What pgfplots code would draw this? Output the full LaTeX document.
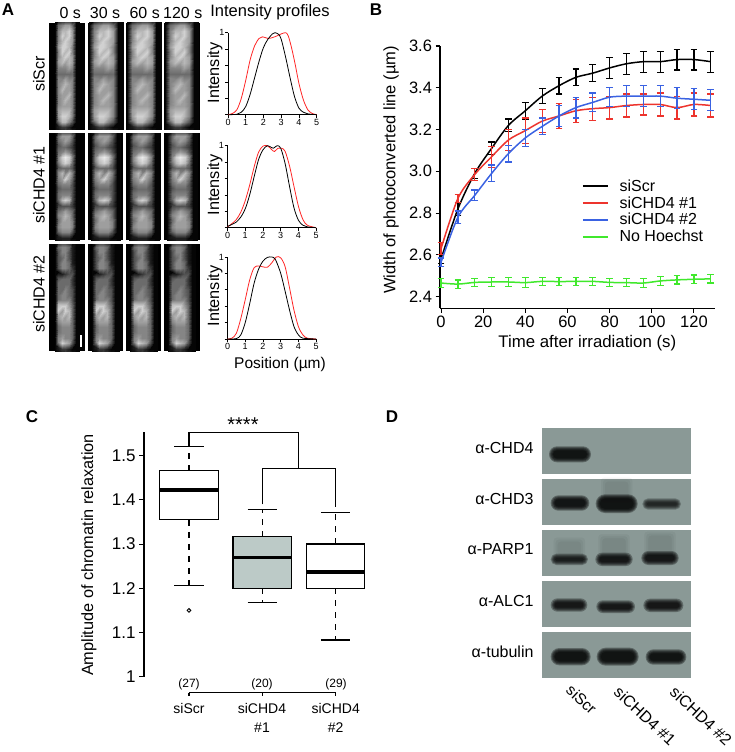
\documentclass[border=0pt]{standalone}
\usepackage{pgfplots}
\usepackage{pgfplotstable}
\usepackage{fontspec}
\setmainfont{Liberation Sans}
\pgfplotsset{compat=1.18}
\pgfplotsset{/pgf/number format/assume math mode=true}
\definecolor{pred}{RGB}{237,52,45}
\definecolor{pblue}{RGB}{58,98,226}
\definecolor{pgreen}{RGB}{64,232,44}
\definecolor{blotbg}{RGB}{138,153,150}
\definecolor{boxgrey}{RGB}{188,202,199}
\newcommand{\fs}[1]{\fontsize{#1pt}{#1pt}\selectfont}

% cell images: 7 columns x 21 rows, intensity 0-9
\pgfplotstableread[row sep=crcr,header=false]{
0\\0\\1\\1\\1\\0\\0\\ 0\\4\\5\\6\\6\\4\\0\\ 0\\5\\7\\7\\8\\6\\0\\ 0\\5\\8\\7\\8\\6\\0\\ 0\\5\\7\\8\\7\\6\\0\\ 0\\6\\8\\8\\7\\5\\0\\ 0\\5\\8\\7\\8\\5\\0\\
0\\5\\7\\8\\7\\6\\0\\ 0\\6\\7\\6\\7\\6\\0\\ 0\\5\\5\\5\\6\\5\\0\\ 0\\4\\4\\4\\4\\4\\0\\ 0\\5\\5\\6\\5\\5\\0\\ 0\\5\\6\\7\\6\\5\\0\\ 0\\5\\7\\6\\6\\5\\0\\
0\\5\\6\\6\\7\\5\\0\\ 0\\5\\6\\7\\6\\5\\0\\ 0\\5\\6\\6\\6\\5\\0\\ 0\\6\\7\\7\\7\\5\\0\\ 0\\6\\8\\8\\7\\5\\0\\ 0\\5\\7\\7\\5\\3\\0\\ 0\\1\\2\\2\\1\\0\\0\\
}\cellA
\pgfplotstableread[row sep=crcr,header=false]{
0\\1\\2\\2\\2\\1\\0\\ 0\\4\\6\\6\\6\\4\\0\\ 0\\4\\5\\6\\5\\3\\0\\ 0\\3\\4\\4\\3\\2\\0\\ 0\\4\\5\\6\\5\\3\\0\\ 0\\5\\8\\9\\8\\5\\0\\ 0\\5\\7\\8\\7\\4\\0\\
0\\3\\4\\4\\4\\3\\0\\ 0\\5\\7\\5\\7\\5\\0\\ 0\\5\\6\\8\\6\\4\\0\\ 0\\4\\5\\5\\5\\3\\0\\ 0\\3\\4\\4\\4\\3\\0\\ 0\\4\\5\\5\\5\\3\\0\\ 0\\4\\7\\8\\7\\3\\0\\
0\\2\\3\\3\\3\\2\\0\\ 0\\4\\5\\6\\5\\4\\0\\ 0\\5\\6\\7\\6\\4\\0\\ 0\\4\\6\\6\\6\\5\\0\\ 0\\5\\6\\6\\6\\5\\0\\ 0\\4\\5\\5\\5\\3\\0\\ 0\\1\\1\\1\\1\\0\\0\\
}\cellB
\pgfplotstableread[row sep=crcr,header=false]{
0\\1\\2\\2\\1\\0\\0\\ 0\\4\\5\\5\\4\\1\\0\\ 0\\3\\5\\5\\3\\1\\0\\ 0\\3\\4\\5\\3\\1\\0\\ 0\\3\\5\\5\\4\\1\\0\\ 0\\3\\5\\5\\4\\2\\0\\ 0\\0\\1\\2\\3\\3\\0\\
0\\3\\4\\4\\4\\2\\0\\ 0\\4\\4\\4\\4\\2\\0\\ 0\\4\\4\\5\\4\\3\\0\\ 0\\4\\5\\5\\4\\3\\0\\ 0\\4\\5\\5\\5\\3\\0\\ 0\\7\\8\\8\\6\\4\\0\\ 0\\8\\6\\8\\7\\4\\0\\
0\\6\\7\\6\\7\\4\\0\\ 0\\5\\6\\6\\6\\4\\0\\ 0\\4\\5\\5\\5\\4\\0\\ 0\\4\\5\\5\\5\\4\\0\\ 0\\5\\6\\5\\5\\4\\0\\ 0\\5\\8\\7\\6\\3\\0\\ 0\\1\\2\\2\\1\\0\\0\\
}\cellC

\pgfplotstableread{
t  b     be    r     re    bl    ble   g     ge
0  2.58  0.02  2.63  0.03  2.565 0.02  2.465 0.02
8  2.82  0.03  2.87  0.02  2.78  0.03  2.46  0.02
16 2.99  0.025 2.985 0.03  2.885 0.025 2.468 0.02
24 3.11  0.03  3.07  0.05  2.99  0.04  2.47  0.02
32 3.22  0.03  3.15  0.05  3.085 0.04  2.47  0.02
40 3.29  0.04  3.195 0.06  3.16  0.04  2.467 0.025
48 3.36  0.035 3.24  0.055 3.215 0.04  2.473 0.02
56 3.41  0.04  3.265 0.06  3.265 0.05  2.472 0.02
64 3.45  0.04  3.29  0.055 3.305 0.05  2.473 0.02
72 3.47  0.04  3.30  0.055 3.33  0.045 2.473 0.02
80 3.495 0.05  3.305 0.055 3.355 0.045 2.468 0.02
88 3.515 0.05  3.315 0.055 3.36  0.05  2.467 0.02
96 3.525 0.05  3.32  0.05  3.36  0.05  2.465 0.02
104 3.525 0.05 3.32  0.055 3.36  0.05  2.475 0.02
112 3.535 0.05 3.305 0.055 3.35  0.05  2.48  0.02
120 3.535 0.05 3.32  0.055 3.345 0.05  2.483 0.02
128 3.525 0.05 3.315 0.055 3.34  0.05  2.485 0.02
}\tabB

\pgfplotsset{
  prof/.style={
    scale only axis, width=88.7pt, height=82pt, anchor=south west,
    xmin=0, xmax=5, ymin=0, ymax=1,
    axis x line=bottom, axis y line=left,
    axis line style={-,line width=.7pt},
    tick align=outside, major tick length=3pt, tick style={line width=.7pt,black},
    xtick={0,1,2,3,4,5}, ytick={0,.2,.4,.6,.8,1},
    yticklabels={,,,,,1},
    tick label style={font=\fs{9}},
    xticklabel style={yshift=2pt}, yticklabel style={xshift=3pt},
    clip=false
  },
  cellimg/.style={
    scale only axis, width=35.4pt, height=107pt, anchor=north west,
    axis lines=none, ticks=none, y dir=reverse, ymin=0, ymax=20,
    axis background/.style={fill=black},
    colormap={g}{gray(0cm)=(0.02); gray(1cm)=(0.92)},
    point meta min=0, point meta max=9
  },
  ser/.style={#1,smooth,mark=none,line width=1.5pt,
    error bars/.cd, y dir=both, y explicit,
    error bar style={draw=#1,line width=1.4pt,solid},
    error mark options={draw=#1,rotate=90,mark size=3.4pt,line width=1.2pt}},
  ln/.style={black,mark=none,line width=1.1pt,solid},
  dsh/.style={black,mark=none,line width=1.1pt,dash pattern=on 6pt off 6pt}
}
\newcommand{\cimg}[5]{% x y table xmin xmax
  \begin{axis}[cellimg, at={(#1pt,-#2pt)}, xmin=#4, xmax=#5]
    \addplot[matrix plot*, shader=interp, mesh/cols=7, mesh/ordering=x varies, point meta=explicit]
      table[x index=0, y index=0, x expr={mod(\coordindex,7)}, y expr={floor(\coordindex/7)}, meta index=0] {#3};
  \end{axis}}
\newcommand{\band}[5]{% cx cy hw hh opacity (zoom units)
  \foreach \e in {8,5,2,-1,-4}{
    \pgfmathsetmacro{\rc}{max(#4+\e,1)}
    \fill[black,opacity=#5,rounded corners=\rc*0.3333pt] ({#1-#3-\e},{#2-#4-\e}) rectangle ({#1+#3+\e},{#2+#4+\e});
  }}
\newcommand{\smear}[4]{%
  \foreach \e in {0,6,12}{
    \fill[black,opacity=.04,rounded corners=3pt] ({#1-#3-\e},{#2-#4-\e}) rectangle ({#1+#3+\e},{#2+#4+\e});
  }}

\begin{document}
\begin{tikzpicture}[x=1pt,y=-1pt]
\useasboundingbox (0,0) rectangle (735,752);

% panel letters
\node[font=\fs{17}\bfseries,anchor=center] at (8,10) {A};
\node[font=\fs{17}\bfseries,anchor=center] at (376,10) {B};
\node[font=\fs{17}\bfseries,anchor=center] at (32,417) {C};
\node[font=\fs{17}\bfseries,anchor=center] at (392,417) {D};

% A: headers
\node[font=\fs{16}] at (70.3,12.7) {0 s};
\node[font=\fs{16}] at (105,12.7) {30 s};
\node[font=\fs{16}] at (144.7,12.7) {60 s};
\node[font=\fs{16}] at (182.7,12.7) {120 s};
\node[font=\fs{16.5}] at (270,12.7) {Intensity profiles};
\node[font=\fs{16},rotate=90] at (39,74) {siScr};
\node[font=\fs{16},rotate=90] at (39,185) {siCHD4 \#1};
\node[font=\fs{16},rotate=90] at (39,294) {siCHD4 \#2};

% A: images
\cimg{49.3}{22.7}{\cellA}{-2}{8}
\cimg{87.7}{22.7}{\cellA}{-0.7}{6.5}
\cimg{126}{22.7}{\cellA}{-0.7}{6.5}
\cimg{164.3}{22.7}{\cellA}{-0.7}{6.7}
\cimg{49.3}{133.3}{\cellB}{-2}{8}
\cimg{87.7}{133.3}{\cellB}{-1.2}{7}
\cimg{126}{133.3}{\cellB}{-1.2}{7}
\cimg{164.3}{133.3}{\cellB}{-1.2}{7}
\cimg{49.3}{244.3}{\cellC}{-2}{8}
\cimg{87.7}{244.3}{\cellC}{-1.5}{7.5}
\cimg{126}{244.3}{\cellC}{-1.5}{7.5}
\cimg{164.3}{244.3}{\cellC}{-1.5}{7.5}
\fill[white] (79.8,335) rectangle (81.6,347);

% A: profiles
\begin{axis}[prof, at={(228pt,-114.7pt)}]
\addplot[red!85!white,line width=.8pt,smooth] coordinates {(0,0)(.25,.015)(.5,.06)(.75,.2)(1,.42)(1.25,.67)(1.5,.84)(1.75,.93)(1.95,.95)(2.25,.93)(2.5,.94)(2.75,.96)(3,.985)(3.25,1)(3.4,.96)(3.6,.8)(3.8,.6)(4,.38)(4.25,.18)(4.5,.06)(4.75,.015)(5,0)};
\addplot[black,line width=.8pt,smooth] coordinates {(0,0)(.5,.005)(.75,.03)(1,.1)(1.25,.25)(1.5,.45)(1.75,.65)(2,.82)(2.25,.92)(2.5,.985)(2.65,1)(2.85,.98)(3,.92)(3.25,.7)(3.5,.45)(3.75,.22)(4,.08)(4.25,.03)(4.5,.01)(5,0)};
\end{axis}
\begin{axis}[prof, at={(227.5pt,-227.7pt)}]
\addplot[red!85!white,line width=.8pt,smooth] coordinates {(0,.01)(.25,.05)(.5,.1)(.75,.19)(1,.33)(1.25,.52)(1.5,.74)(1.75,.92)(2,.995)(2.25,1)(2.5,.95)(2.65,.93)(2.85,.97)(3.05,.97)(3.25,.93)(3.5,.75)(3.75,.5)(4,.26)(4.25,.1)(4.5,.03)(5,0)};
\addplot[black,line width=.8pt,smooth] coordinates {(0,.015)(.25,.04)(.5,.07)(.75,.13)(1,.23)(1.25,.4)(1.5,.62)(1.75,.83)(2,.95)(2.25,1)(2.5,.975)(2.6,.97)(2.8,1)(3,.97)(3.25,.78)(3.5,.5)(3.75,.24)(4,.09)(4.25,.03)(4.5,.01)(5,0)};
\end{axis}
\begin{axis}[prof, at={(227.5pt,-339pt)}]
\addplot[red!85!white,line width=.8pt,smooth] coordinates {(0,0)(.25,.01)(.5,.07)(.75,.25)(1,.48)(1.25,.72)(1.5,.87)(1.75,.89)(2,.88)(2.25,.875)(2.5,.93)(2.75,1)(3,.99)(3.25,.88)(3.5,.62)(3.75,.35)(4,.15)(4.25,.05)(4.5,.01)(5,0)};
\addplot[black,line width=.8pt,smooth] coordinates {(0,0)(.5,.005)(.75,.05)(1,.2)(1.25,.43)(1.5,.68)(1.75,.85)(2,.95)(2.25,.995)(2.5,1)(2.7,.97)(3,.8)(3.25,.58)(3.5,.35)(3.75,.15)(4,.05)(4.25,.01)(5,0)};
\end{axis}
\node[font=\fs{16.3},rotate=90] at (215,73) {Intensity};
\node[font=\fs{16.3},rotate=90] at (215,185) {Intensity};
\node[font=\fs{16.3},rotate=90] at (215,296) {Intensity};
\node[font=\fs{15.5}] at (280,364) {Position (µm)};

% B
\begin{axis}[
  scale only axis, width=275pt, height=262.3pt, anchor=south west, at={(440pt,-308.3pt)},
  xmin=-0.5, xmax=130, ymin=2.344, ymax=3.6,
  axis x line=bottom, axis y line=left, axis line style={-,line width=1.2pt},
  tick align=outside, major tick length=4.5pt, tick style={line width=1.1pt,black},
  xtick={0,20,40,60,80,100,120}, ytick={2.4,2.6,2.8,3.0,3.2,3.4,3.6},
  yticklabel style={/pgf/number format/fixed,/pgf/number format/fixed zerofill,/pgf/number format/precision=1},
  tick label style={font=\fs{16.5}},
  clip=false,
  legend style={at={(rel axis cs:0.516,0.497)},anchor=north west,draw=none,fill=none,font=\fs{16},
    inner sep=0pt,column sep=9pt,row sep=1pt,nodes={inner ysep=1.4pt}},
  legend cell align=left,
  legend image code/.code={\draw[#1,line width=1.5pt] (0pt,0pt) -- (25pt,0pt);}
]
\addplot[ser=black] table[x=t,y=b,y error=be] {\tabB};
\addlegendentry{siScr}
\addplot[ser=pred] table[x=t,y=r,y error=re] {\tabB};
\addlegendentry{siCHD4 \#1}
\addplot[ser=pblue] table[x=t,y=bl,y error=ble] {\tabB};
\addlegendentry{siCHD4 \#2}
\addplot[ser=pgreen] table[x=t,y=g,y error=ge] {\tabB};
\addlegendentry{No Hoechst}
\end{axis}
\node[font=\fs{16.5},rotate=90] at (391,170) {Width of photoconverted line (µm)};
\node[font=\fs{16.8}] at (587.3,343) {Time after irradiation (s)};

% C
\begin{axis}[
  scale only axis, width=245pt, height=244.4pt, anchor=south west, at={(144pt,-676.7pt)},
  xmin=0.386, xmax=3.73, ymin=1, ymax=1.553,
  axis y line=left, axis x line=none, axis line style={-,line width=1.1pt},
  tick align=outside, major tick length=5pt, tick style={line width=1pt,black},
  ytick={1,1.1,1.2,1.3,1.4,1.5}, xtick=\empty,
  yticklabel style={/pgf/number format/fixed,/pgf/number format/precision=1},
  tick label style={font=\fs{17}},
  clip=false
]
% brackets
\addplot[ln] coordinates {(1,1.52)(1,1.553)(2.49,1.553)(2.49,1.472)};
\addplot[ln] coordinates {(2,1.39)(2,1.472)(3,1.472)(3,1.383)};
% box 1
\addplot[dsh] coordinates {(1,1.355)(1,1.207)};
\addplot[dsh] coordinates {(1,1.466)(1,1.52)};
\addplot[ln] coordinates {(0.8,1.52)(1.2,1.52)};
\addplot[ln] coordinates {(0.8,1.207)(1.2,1.207)};
\addplot[ln,fill=white,line width=1.3pt] coordinates {(0.6,1.355)(1.4,1.355)(1.4,1.466)(0.6,1.466)} -- cycle;
\addplot[ln,line width=3.6pt] coordinates {(0.6,1.423)(1.4,1.423)};
\addplot[only marks,mark=o,mark size=1.8pt,line width=.9pt] coordinates {(1,1.15)};
% box 2
\addplot[dsh] coordinates {(2,1.2)(2,1.167)};
\addplot[dsh] coordinates {(2,1.3165)(2,1.378)};
\addplot[ln] coordinates {(1.8,1.378)(2.2,1.378)};
\addplot[ln] coordinates {(1.8,1.167)(2.2,1.167)};
\addplot[ln,fill=boxgrey,line width=1.3pt] coordinates {(1.6,1.2)(2.4,1.2)(2.4,1.3165)(1.6,1.3165)} -- cycle;
\addplot[ln,line width=3.6pt] coordinates {(1.6,1.27)(2.4,1.27)};
% box 3
\addplot[dsh] coordinates {(3,1.2)(3,1.083)};
\addplot[dsh] coordinates {(3,1.3)(3,1.372)};
\addplot[ln] coordinates {(2.8,1.372)(3.2,1.372)};
\addplot[ln] coordinates {(2.8,1.083)(3.2,1.083)};
\addplot[ln,fill=white,line width=1.3pt] coordinates {(2.6,1.2)(3.4,1.2)(3.4,1.3)(2.6,1.3)} -- cycle;
\addplot[ln,line width=3.6pt] coordinates {(2.6,1.237)(3.4,1.237)};
% bottom axis
\addplot[ln] coordinates {(1,0.9638)(3,0.9638)};
\addplot[ln] coordinates {(1,0.9638)(1,0.956)};
\addplot[ln] coordinates {(2,0.9638)(2,0.956)};
\addplot[ln] coordinates {(3,0.9638)(3,0.956)};
\end{axis}
\node[font=\fs{20}] at (243,425) {****};
\node[font=\fs{12}] at (189,684.5) {(27)};
\node[font=\fs{12}] at (262,684.5) {(20)};
\node[font=\fs{12}] at (336,684.5) {(29)};
\node[font=\fs{14}] at (189,708) {siScr};
\node[font=\fs{14}] at (262,708) {siCHD4};
\node[font=\fs{14}] at (262,728) {\#1};
\node[font=\fs{14}] at (335.7,708) {siCHD4};
\node[font=\fs{14}] at (335.7,728) {\#2};
\node[font=\fs{16.3},rotate=90] at (89,555) {Amplitude of chromatin relaxation};

% D
\begin{scope}[x=.33333pt,y=-.33333pt,yshift=-410pt,xshift=460pt]
  \fill[blotbg] (246,55) rectangle (692,193);
  \fill[blotbg] (246,207) rectangle (692,345);
  \fill[blotbg] (246,360) rectangle (692,498);
  \fill[blotbg] (246,513) rectangle (692,651);
  \fill[blotbg] (246,665) rectangle (692,804);
  \smear{470}{240}{35}{25}
  \smear{328}{415}{35}{20}
  \smear{462}{410}{35}{25}
  \smear{600}{405}{35}{28}
  \band{330}{133}{55}{16}{.33}
  \band{330}{279}{50}{15}{.32}
  \band{470}{281}{55}{20}{.33}
  \band{605}{282}{50}{9}{.24}
  \band{328}{448}{48}{9}{.27}
  \band{462}{448}{48}{12}{.3}
  \band{600}{444}{48}{13}{.3}
  \band{327}{585}{47}{12}{.3}
  \band{467}{590}{50}{11}{.3}
  \band{610}{586}{52}{12}{.3}
  \band{332}{740}{52}{18}{.33}
  \band{473}{740}{55}{19}{.33}
  \band{618}{741}{53}{15}{.33}
\end{scope}
\node[font=\fs{16},anchor=east] at (537,448) {α-CHD4};
\node[font=\fs{16},anchor=east] at (537,498.5) {α-CHD3};
\node[font=\fs{16},anchor=east] at (537,549) {α-PARP1};
\node[font=\fs{16},anchor=east] at (537,601) {α-ALC1};
\node[font=\fs{16},anchor=east] at (537,652) {α-tubulin};
\node[font=\fs{15.5},rotate=-43,anchor=center] at (581.5,699.5) {siScr};
\node[font=\fs{16},rotate=-43,anchor=center] at (645,716) {siCHD4 \#1};
\node[font=\fs{16},rotate=-43,anchor=center] at (701,716) {siCHD4 \#2};
\end{tikzpicture}
\end{document}
